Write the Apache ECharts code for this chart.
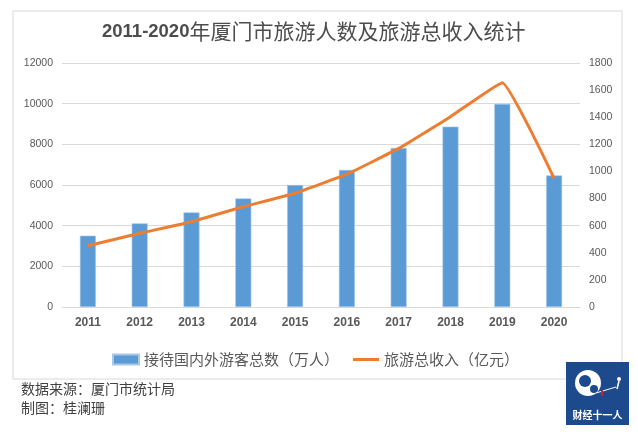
<!DOCTYPE html>
<html>
<head>
<meta charset="utf-8">
<script src="https://cdn.jsdelivr.net/npm/echarts@6/dist/echarts.min.js"></script>
<style>
html,body{margin:0;padding:0;background:#fff;}
#main{width:638px;height:435px;}
</style>
</head>
<body>
<div id="main"></div>
<script>
var years = ['2011','2012','2013','2014','2015','2016','2017','2018','2019','2020'];
var visitors = [3506, 4115, 4655, 5340, 6000, 6740, 7820, 8870, 9990, 6475];
var revenue = [452, 544, 629, 740, 839, 980, 1170, 1404, 1655, 949];
var leftTicks = {min: 0, max: 12000, interval: 2000};
var rightTicks = {min: 0, max: 1800, interval: 200};
var seriesNames = ['接待国内外游客总数（万人）', '旅游总收入（亿元）'];
var titleNum = '2011-2020';
var titleText = '年厦门市旅游人数及旅游总收入统计';
var sourceLines = ['数据来源：厦门市统计局', '制图：桂澜珊'];

var chart = echarts.init(document.getElementById('main'), null, {renderer: 'canvas'});
var cjk = '"Noto Sans CJK SC", "Noto Sans", sans-serif';
var num = '"Liberation Sans", "DejaVu Sans", sans-serif';
var plain = function (v) { return String(v); };
var option = {
  backgroundColor: '#fff',
  animation: false,
  title: {
    text: '{a|' + titleNum + '}{b|' + titleText + '}',
    left: 97, top: 16,
    textStyle: {
      fontSize: 21, fontWeight: 'normal', fontFamily: cjk, color: '#4d4d4d',
      rich: {
        a: {fontFamily: num, fontWeight: 'bold', fontSize: 18.5, color: '#4d4d4d'},
        b: {fontFamily: cjk, fontWeight: 'normal', fontSize: 21, color: '#4d4d4d'}
      }
    }
  },
  legend: {
    left: 107, top: 347,
    itemWidth: 26, itemHeight: 10, itemGap: 14,
    textStyle: {fontFamily: cjk, fontSize: 15, color: '#595959'},
    data: [
      {name: seriesNames[0], icon: 'rect'},
      {name: seriesNames[1], icon: 'path://M0,0h0.01v0.01h-0.01z M0,3.5h26v3h-26z M25.99,9.99h0.01v0.01h-0.01z'}
    ]
  },
  grid: {left: 62, right: 58, top: 63, bottom: 128},
  xAxis: {
    type: 'category', data: years,
    axisLine: {lineStyle: {color: '#d9d9d9'}},
    axisTick: {show: false},
    axisLabel: {fontFamily: num, fontWeight: 'bold', fontSize: 12, color: '#595959', margin: 10}
  },
  yAxis: [{
    type: 'value', min: leftTicks.min, max: leftTicks.max, interval: leftTicks.interval,
    axisLine: {show: false}, axisTick: {show: false},
    axisLabel: {fontFamily: num, fontSize: 10.5, color: '#595959', margin: 9, formatter: plain},
    splitLine: {lineStyle: {color: '#d9d9d9', width: 1}}
  }, {
    type: 'value', min: rightTicks.min, max: rightTicks.max, interval: rightTicks.interval,
    axisLine: {show: false}, axisTick: {show: false},
    axisLabel: {fontFamily: num, fontSize: 10.5, color: '#595959', margin: 9, formatter: plain},
    splitLine: {show: false}
  }],
  series: [{
    name: seriesNames[0], type: 'bar', data: visitors, barWidth: 16,
    itemStyle: {color: '#5b9bd5', borderColor: '#a9c8e8', borderWidth: 0.6}
  }, {
    name: seriesNames[1], type: 'line', yAxisIndex: 1, data: revenue,
    smooth: 0.1, symbol: 'none',
    lineStyle: {color: '#ed7d31', width: 3},
    itemStyle: {color: '#ed7d31'}
  }],
  graphic: [
    {type: 'rect', shape: {x: 13, y: 11, width: 609, height: 368}, style: {fill: 'none', stroke: '#d9d9d9', lineWidth: 1}, z: -1},
    {type: 'text', left: 21, top: 382, style: {text: sourceLines[0], font: '14px ' + cjk, fill: '#404040'}},
    {type: 'text', left: 21, top: 401, style: {text: sourceLines[1], font: '14px ' + cjk, fill: '#404040'}},
    {type: 'group', left: 566, top: 362, children: [
      {type: 'rect', shape: {x: 0, y: 0, width: 63, height: 63}, style: {fill: '#1d4a8c'}},
      {type: 'circle', shape: {cx: 22, cy: 21, r: 13}, style: {fill: '#ffffff'}},
      {type: 'circle', shape: {cx: 19, cy: 19, r: 6}, style: {fill: '#1d4a8c'}},
      {type: 'circle', shape: {cx: 28, cy: 27, r: 4}, style: {fill: '#1d4a8c'}},
      {type: 'line', shape: {x1: 30, y1: 31, x2: 50, y2: 25}, style: {stroke: '#ffffff', lineWidth: 1}},
      {type: 'line', shape: {x1: 36, y1: 28, x2: 36, y2: 34}, style: {stroke: '#d02030', lineWidth: 2}},
      {type: 'circle', shape: {cx: 53, cy: 17, r: 2}, style: {fill: '#ffffff'}},
      {type: 'line', shape: {x1: 53, y1: 19, x2: 51, y2: 27}, style: {stroke: '#ffffff', lineWidth: 1.5}},
      {type: 'text', x: 31.5, y: 53, style: {text: '财经十一人', font: 'bold 10px ' + cjk, fill: '#ffffff', align: 'center', verticalAlign: 'middle'}}
    ]}
  ]
};
chart.setOption(option);
</script>
</body>
</html>
